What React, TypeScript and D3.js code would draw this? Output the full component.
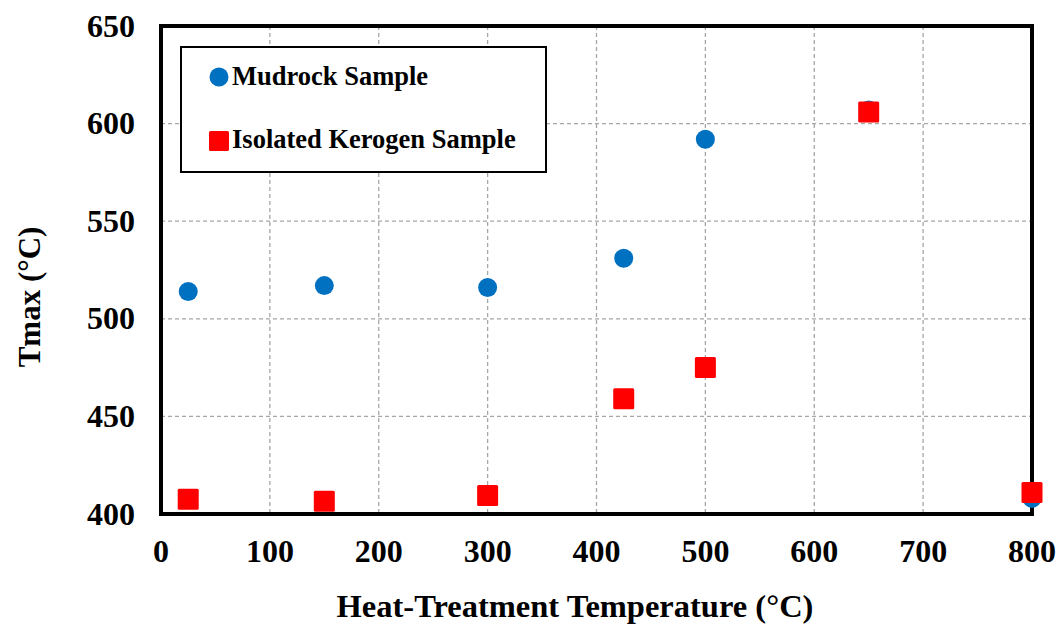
import { useRef, useEffect } from 'react';
import * as d3 from 'd3';

const temps = [25, 150, 300, 425, 500, 650, 800];
const mudrock = [514, 517, 516, 531, 592, 607, 408];
const kerogen = [407.5, 406.5, 409.5, 459, 475, 606, 411];
const xTicks = [0, 100, 200, 300, 400, 500, 600, 700, 800];
const yTicks = [400, 450, 500, 550, 600, 650];

const W = 1060;
const H = 625;
const FONT = '"Liberation Serif", "Times New Roman", serif';

export default function App() {
  const svgRef = useRef<SVGSVGElement>(null);

  useEffect(() => {
    const svg = d3.select(svgRef.current);
    svg.selectAll('*').remove();

    const left = 161, right = 1032, top = 26, bottom = 514;
    const x = d3.scaleLinear().domain([0, 800]).range([left, right]);
    const y = d3.scaleLinear().domain([400, 650]).range([bottom, top]);

    // grid
    const grid = svg.append('g');
    grid.selectAll('line.v')
      .data(xTicks.slice(1, -1))
      .join('line')
      .attr('x1', d => x(d)).attr('x2', d => x(d))
      .attr('y1', top).attr('y2', bottom)
      .attr('stroke', '#a6a6a6').attr('stroke-width', 1.3)
      .attr('stroke-dasharray', '4,3');
    grid.selectAll('line.h')
      .data(yTicks.slice(1, -1))
      .join('line')
      .attr('x1', left).attr('x2', right)
      .attr('y1', d => y(d)).attr('y2', d => y(d))
      .attr('stroke', '#a6a6a6').attr('stroke-width', 1.3)
      .attr('stroke-dasharray', '4,3');

    // frame
    svg.append('rect')
      .attr('x', left).attr('y', top)
      .attr('width', right - left).attr('height', bottom - top)
      .attr('fill', 'none').attr('stroke', '#000').attr('stroke-width', 4);

    // tick labels
    svg.append('g').selectAll('text')
      .data(xTicks)
      .join('text')
      .attr('x', d => x(d)).attr('y', 562)
      .attr('text-anchor', 'middle')
      .attr('font-family', FONT).attr('font-weight', 'bold').attr('font-size', 32)
      .text(d => d);
    svg.append('g').selectAll('text')
      .data(yTicks)
      .join('text')
      .attr('x', left - 26).attr('y', d => y(d) + 10.5)
      .attr('text-anchor', 'end')
      .attr('font-family', FONT).attr('font-weight', 'bold').attr('font-size', 32)
      .text(d => d);

    // axis titles
    svg.append('text')
      .attr('x', 575).attr('y', 617)
      .attr('text-anchor', 'middle')
      .attr('font-family', FONT).attr('font-weight', 'bold').attr('font-size', 32.5)
      .text('Heat-Treatment Temperature (°C)');
    svg.append('text')
      .attr('transform', 'translate(40,297) rotate(-90)')
      .attr('text-anchor', 'middle')
      .attr('font-family', FONT).attr('font-weight', 'bold').attr('font-size', 31)
      .text('Tmax (°C)');

    // markers
    svg.append('g').selectAll('circle')
      .data(temps)
      .join('circle')
      .attr('cx', d => x(d))
      .attr('cy', (d, i) => y(mudrock[i]))
      .attr('r', 9.5)
      .attr('fill', '#0070C0');
    svg.append('g').selectAll('rect')
      .data(temps)
      .join('rect')
      .attr('x', d => x(d) - 10.5)
      .attr('y', (d, i) => y(kerogen[i]) - 10.5)
      .attr('width', 21).attr('height', 21)
      .attr('rx', 1.5)
      .attr('fill', '#FF0000');

    // legend
    const lg = svg.append('g');
    lg.append('rect')
      .attr('x', 181).attr('y', 47)
      .attr('width', 365).attr('height', 125)
      .attr('fill', '#fff').attr('stroke', '#000').attr('stroke-width', 2);
    lg.append('circle')
      .attr('cx', 219).attr('cy', 77).attr('r', 9.5)
      .attr('fill', '#0070C0');
    lg.append('rect')
      .attr('x', 209).attr('y', 131).attr('width', 20).attr('height', 20)
      .attr('rx', 1.5)
      .attr('fill', '#FF0000');
    lg.append('text')
      .attr('x', 232).attr('y', 85)
      .attr('font-family', FONT).attr('font-weight', 'bold').attr('font-size', 26.5)
      .text('Mudrock Sample');
    lg.append('text')
      .attr('x', 232).attr('y', 148)
      .attr('font-family', FONT).attr('font-weight', 'bold').attr('font-size', 26.5)
      .text('Isolated Kerogen Sample');
  }, []);

  return (
    <svg
      ref={svgRef}
      width={W}
      height={H}
      style={{ position: 'absolute', left: 0, top: 0, background: '#fff' }}
    />
  );
}
